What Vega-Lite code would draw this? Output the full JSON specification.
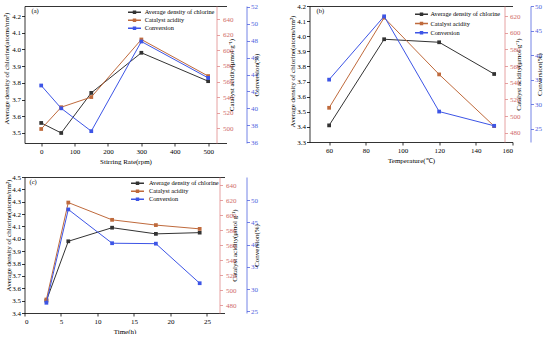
{
  "$schema": "https://vega.github.io/schema/vega-lite/v6.json",
  "padding": {"left": 1.5, "top": 2, "right": 0, "bottom": 0},
  "background": "white",
  "config": {
    "font": "Liberation Serif",
    "view": {"stroke": null},
    "axis": {"grid": false, "labelFontSize": 7, "titleFontSize": 7, "titleFontWeight": "normal", "tickSize": 3, "labelPadding": 1, "domainColor": "#000", "tickColor": "#000", "labelColor": "#000", "titleColor": "#000", "domainWidth": 0.8, "tickWidth": 0.8, "labelFont": "Liberation Serif", "titleFont": "Liberation Serif"},
    "legend": {"labelFont": "Liberation Serif", "labelFontSize": 6.3, "labelColor": "#000"},
    "title": {"font": "Liberation Serif", "fontSize": 6.5, "fontWeight": "normal", "anchor": "start", "frame": "group"}
  },
  "spacing": 9,
  "resolve": {"scale": {"color": "independent"}, "legend": {"color": "independent"}},
  "vconcat": [
    {
      "spacing": 28,
      "resolve": {"scale": {"color": "independent"}, "legend": {"color": "independent"}},
      "hconcat": [
        {
          "width": 202, "height": 137,
          "title": {"text": "(a)", "offset": -12, "dx": 7},
          "data": {"values": [
            {"rate": 0, "chlorine": 3.56, "acidity": 499, "conversion": 42.7},
            {"rate": 60, "chlorine": 3.50, "acidity": 527, "conversion": 40.0},
            {"rate": 150, "chlorine": 3.74, "acidity": 540, "conversion": 37.3},
            {"rate": 300, "chlorine": 3.98, "acidity": 614, "conversion": 47.9},
            {"rate": 500, "chlorine": 3.81, "acidity": 567, "conversion": 43.6}
          ]},
          "layer": [
            {"mark": {"type": "line", "strokeWidth": 1, "point": {"shape": "square", "filled": true, "size": 14}},
             "encoding": {
               "x": {"field": "rate", "type": "quantitative", "scale": {"domain": [-50, 555], "nice": false, "zero": false}, "axis": {"orient": "bottom", "values": [0, 100, 200, 300, 400, 500], "title": "Stirring Rate(rpm)", "titlePadding": 3}},
               "y": {"field": "chlorine", "type": "quantitative", "scale": {"domain": [3.44, 4.26], "nice": false, "zero": false}, "axis": {"orient": "left", "values": [3.5, 3.6, 3.7, 3.8, 3.9, 4.0, 4.1, 4.2], "format": ".1f", "title": "Average density of chlorine(atoms/nm²)", "titlePadding": 2.75, "titleY": 62}},
               "color": {"datum": "Average density of chlorine", "type": "nominal", "scale": {"domain": ["Average density of chlorine", "Catalyst acidity", "Conversion"], "range": ["#333333", "#bf6a3c", "#3d55e6"]},
                 "legend": {"orient": "none", "legendX": 106, "legendY": 2.3, "title": null, "symbolType": "M-2,0H2M-0.3,-0.3H0.3V0.3H-0.3Z", "symbolSize": 42, "symbolStrokeWidth": 1.5, "labelOffset": 6.25, "rowPadding": 0}}
             }},
            {"mark": {"type": "line", "strokeWidth": 1, "point": {"shape": "square", "filled": true, "size": 14}},
             "encoding": {
               "x": {"field": "rate", "type": "quantitative", "axis": {"orient": "top", "labels": false, "ticks": false, "title": null}},
               "y": {"field": "acidity", "type": "quantitative", "scale": {"domain": [481, 657], "nice": false, "zero": false}, "axis": {"orient": "right", "offset": -10, "values": [500, 520, 540, 560, 580, 600, 620, 640], "labelPadding": 3, "title": "Catalyst acidity(μmol g⁻¹)", "titleAngle": 270, "titlePadding": 1, "domainColor": "#e08a8a", "tickColor": "#e08a8a", "labelColor": "#d06a6a"}},
               "color": {"datum": "Catalyst acidity", "type": "nominal"}
             }},
            {"mark": {"type": "line", "strokeWidth": 1, "point": {"shape": "square", "filled": true, "size": 14}},
             "encoding": {
               "x": {"field": "rate", "type": "quantitative", "axis": null},
               "y": {"field": "conversion", "type": "quantitative", "scale": {"domain": [35.9, 52.1], "nice": false, "zero": false}, "axis": {"orient": "right", "offset": 20, "values": [36, 38, 40, 42, 44, 46, 48, 50, 52], "title": "Conversion(%)", "titleAngle": 270, "titlePadding": 2, "domainColor": "#5064e0", "tickColor": "#5064e0", "labelColor": "#5064e0"}},
               "color": {"datum": "Conversion", "type": "nominal"}
             }}
          ],
          "resolve": {"scale": {"y": "independent"}, "axis": {"x": "independent", "y": "independent"}}
        },
        {
          "width": 203, "height": 136,
          "title": {"text": "(b)", "offset": -12, "dx": 7},
          "data": {"values": [
            {"temp": 60, "chlorine": 3.41, "acidity": 510, "conversion": 35.0},
            {"temp": 90, "chlorine": 3.98, "acidity": 618, "conversion": 47.9},
            {"temp": 120, "chlorine": 3.96, "acidity": 550, "conversion": 28.5},
            {"temp": 150, "chlorine": 3.75, "acidity": 488, "conversion": 25.6}
          ]},
          "layer": [
            {"mark": {"type": "line", "strokeWidth": 1, "point": {"shape": "square", "filled": true, "size": 14}},
             "encoding": {
               "x": {"field": "temp", "type": "quantitative", "scale": {"domain": [49.3, 160], "nice": false, "zero": false}, "axis": {"orient": "bottom", "values": [60, 80, 100, 120, 140, 160], "title": "Temperature(℃)", "titlePadding": 3}},
               "y": {"field": "chlorine", "type": "quantitative", "scale": {"domain": [3.3, 4.2], "nice": false, "zero": false}, "axis": {"orient": "left", "values": [3.3, 3.4, 3.5, 3.6, 3.7, 3.8, 3.9, 4.0, 4.1, 4.2], "format": ".1f", "title": "Average density of chlorine(atoms/nm²)", "titlePadding": 1.5, "titleY": 65}},
               "color": {"datum": "Average density of chlorine", "type": "nominal", "scale": {"domain": ["Average density of chlorine", "Catalyst acidity", "Conversion"], "range": ["#333333", "#bf6a3c", "#3d55e6"]},
                 "legend": {"orient": "none", "legendX": 108, "legendY": 4.3, "title": null, "symbolType": "M-2,0H2M-0.3,-0.3H0.3V0.3H-0.3Z", "symbolSize": 42, "symbolStrokeWidth": 1.5, "labelOffset": 5, "rowPadding": 1.2}}
             }},
            {"mark": {"type": "line", "strokeWidth": 1, "point": {"shape": "square", "filled": true, "size": 14}},
             "encoding": {
               "x": {"field": "temp", "type": "quantitative", "axis": {"orient": "top", "labels": false, "ticks": false, "title": null}},
               "y": {"field": "acidity", "type": "quantitative", "scale": {"domain": [469, 632], "nice": false, "zero": false}, "axis": {"orient": "right", "offset": -8, "values": [480, 500, 520, 540, 560, 580, 600, 620], "labelPadding": 2, "title": "Catalyst acidity(μmol g⁻¹)", "titleAngle": 270, "titlePadding": 1, "domainColor": "#e08a8a", "tickColor": "#e08a8a", "labelColor": "#d06a6a"}},
               "color": {"datum": "Catalyst acidity", "type": "nominal"}
             }},
            {"mark": {"type": "line", "strokeWidth": 1, "point": {"shape": "square", "filled": true, "size": 14}},
             "encoding": {
               "x": {"field": "temp", "type": "quantitative", "axis": null},
               "y": {"field": "conversion", "type": "quantitative", "scale": {"domain": [22.3, 50], "nice": false, "zero": false}, "axis": {"orient": "right", "offset": 18, "values": [25, 30, 35, 40, 45, 50], "title": "Conversion(%)", "titleAngle": 270, "titlePadding": 1, "domainColor": "#5064e0", "tickColor": "#5064e0", "labelColor": "#5064e0"}},
               "color": {"datum": "Conversion", "type": "nominal"}
             }}
          ],
          "resolve": {"scale": {"y": "independent"}, "axis": {"x": "independent", "y": "independent"}}
        }
      ]
    },
    {
      "resolve": {"scale": {"color": "independent"}, "legend": {"color": "independent"}},
      "hconcat": [
        {
          "width": 200, "height": 136,
          "title": {"text": "(c)", "offset": -12, "dx": 5},
          "data": {"values": [
            {"time": 3, "chlorine": 3.50, "acidity": 488, "conversion": 26.9},
            {"time": 6, "chlorine": 3.98, "acidity": 617, "conversion": 47.9},
            {"time": 12, "chlorine": 4.09, "acidity": 594, "conversion": 40.3},
            {"time": 18, "chlorine": 4.04, "acidity": 587, "conversion": 40.2},
            {"time": 24, "chlorine": 4.05, "acidity": 582, "conversion": 31.3}
          ]},
          "layer": [
            {"mark": {"type": "line", "strokeWidth": 1, "point": {"shape": "square", "filled": true, "size": 14}},
             "encoding": {
               "x": {"field": "time", "type": "quantitative", "scale": {"domain": [0, 27.4], "nice": false, "zero": false}, "axis": {"orient": "bottom", "values": [0, 5, 10, 15, 20, 25], "title": "Time(h)", "titlePadding": 3}},
               "y": {"field": "chlorine", "type": "quantitative", "scale": {"domain": [3.4, 4.5], "nice": false, "zero": false}, "axis": {"orient": "left", "values": [3.4, 3.5, 3.6, 3.7, 3.8, 3.9, 4.0, 4.1, 4.2, 4.3, 4.4, 4.5], "format": ".1f", "title": "Average density of chlorine(atoms/nm²)", "titlePadding": 0, "titleY": 58}},
               "color": {"datum": "Average density of chlorine", "type": "nominal", "scale": {"domain": ["Average density of chlorine", "Catalyst acidity", "Conversion"], "range": ["#333333", "#bf6a3c", "#3d55e6"]},
                 "legend": {"orient": "none", "legendX": 109, "legendY": 2.3, "title": null, "symbolType": "M-2,0H2M-0.3,-0.3H0.3V0.3H-0.3Z", "symbolSize": 42, "symbolStrokeWidth": 1.5, "labelOffset": 7.5, "rowPadding": 0}}
             }},
            {"mark": {"type": "line", "strokeWidth": 1, "point": {"shape": "square", "filled": true, "size": 14}},
             "encoding": {
               "x": {"field": "time", "type": "quantitative", "axis": {"orient": "top", "labels": false, "ticks": false, "title": null}},
               "y": {"field": "acidity", "type": "quantitative", "scale": {"domain": [470, 651], "nice": false, "zero": false}, "axis": {"orient": "right", "offset": -5, "values": [480, 500, 520, 540, 560, 580, 600, 620, 640], "labelPadding": 3, "title": "Catalyst acidity(μmol g⁻¹)", "titleAngle": 270, "titlePadding": 1, "domainColor": "#e08a8a", "tickColor": "#e08a8a", "labelColor": "#d06a6a"}},
               "color": {"datum": "Catalyst acidity", "type": "nominal"}
             }},
            {"mark": {"type": "line", "strokeWidth": 1, "point": {"shape": "square", "filled": true, "size": 14}},
             "encoding": {
               "x": {"field": "time", "type": "quantitative", "axis": null},
               "y": {"field": "conversion", "type": "quantitative", "scale": {"domain": [24.6, 55.2], "nice": false, "zero": false}, "axis": {"orient": "right", "offset": 22, "values": [25, 30, 35, 40, 45, 50], "title": "Conversion(%)", "titleAngle": 270, "titlePadding": 2, "domainColor": "#5064e0", "tickColor": "#5064e0", "labelColor": "#5064e0"}},
               "color": {"datum": "Conversion", "type": "nominal"}
             }}
          ],
          "resolve": {"scale": {"y": "independent"}, "axis": {"x": "independent", "y": "independent"}}
        }
      ]
    }
  ]
}
